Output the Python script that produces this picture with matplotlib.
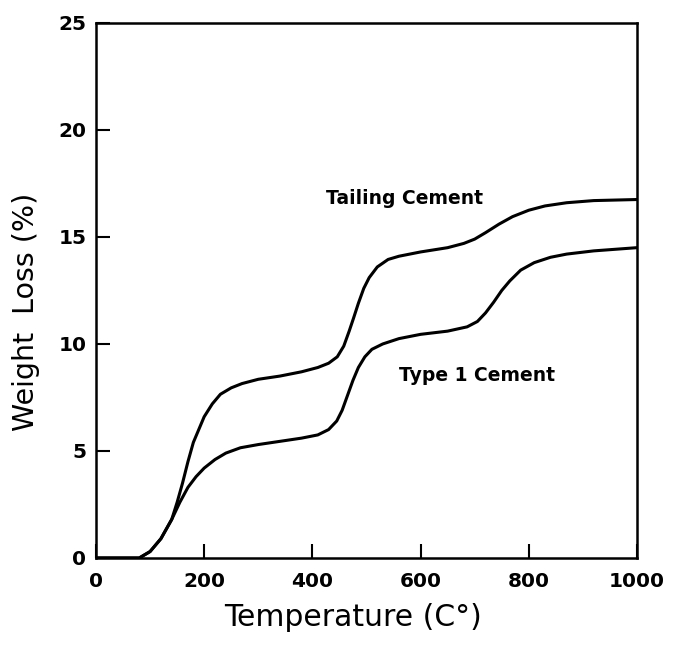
import matplotlib
matplotlib.use("Agg")
import matplotlib.pyplot as plt

# temperature (C) and weight loss (%)
temp_tailing = [0, 80, 100, 120, 140, 150, 160, 170, 180, 190, 200, 215, 230, 250, 270,
                300, 340, 380, 410, 430, 446, 458, 468, 476, 485, 495, 505, 520, 540, 560,
                600, 650, 680, 700, 720, 745, 770, 800, 830, 870, 920, 1000]
loss_tailing = [0, 0, 0.3, 0.9, 1.8, 2.6, 3.5, 4.5, 5.4, 6.0, 6.6, 7.2, 7.65, 7.95, 8.15,
                8.35, 8.5, 8.7, 8.9, 9.1, 9.4, 9.9, 10.6, 11.2, 11.9, 12.6, 13.1, 13.6, 13.95, 14.1,
                14.3, 14.5, 14.7, 14.9, 15.2, 15.6, 15.95, 16.25, 16.45, 16.6, 16.7, 16.75]

temp_type1 = [0, 80, 100, 120, 140, 155, 170, 185, 200, 220, 240, 267, 300, 340, 380,
              410, 430, 445, 455, 465, 475, 485, 497, 510, 530, 560, 600, 650, 686, 705,
              720, 735, 750, 765, 785, 810, 840, 870, 920, 1000]
loss_type1 = [0, 0, 0.3, 0.9, 1.8, 2.6, 3.3, 3.8, 4.2, 4.6, 4.9, 5.15, 5.3, 5.45, 5.6,
              5.75, 6.0, 6.4, 6.9, 7.6, 8.3, 8.9, 9.4, 9.75, 10.0, 10.25, 10.45, 10.6, 10.8, 11.05,
              11.45, 11.95, 12.5, 12.95, 13.45, 13.8, 14.05, 14.2, 14.35, 14.5]

x_ticks = [0, 200, 400, 600, 800, 1000]
y_ticks = [0, 5, 10, 15, 20, 25]

fig = plt.figure(figsize=(6.73, 6.47), dpi=100)
ax = fig.add_axes([0.1426, 0.1376, 0.8039, 0.8269])

for t, w in [(temp_tailing, loss_tailing), (temp_type1, loss_type1)]:
    ax.plot(t, w, color="black", lw=2.2, solid_capstyle="round", solid_joinstyle="round")

ax.text(426, 16.8, "Tailing Cement", fontsize=13.5, fontweight="bold", va="center", ha="left")
ax.text(561, 8.55, "Type 1 Cement", fontsize=13.5, fontweight="bold", va="center", ha="left")

ax.set_xlim(0, 1000)
ax.set_ylim(0, 25)
ax.set_xticks(x_ticks)
ax.set_yticks(y_ticks)
ax.tick_params(direction="in", length=10, width=1.5, labelsize=14.5, top=False, right=False)
ax.tick_params(axis="x", pad=10)
ax.tick_params(axis="y", pad=7)
for lab in ax.get_xticklabels() + ax.get_yticklabels():
    lab.set_fontweight("bold")
for sp in ax.spines.values():
    sp.set_linewidth(1.8)

ax.set_xlabel("Temperature (C°)", fontsize=21.5)
ax.xaxis.set_label_coords(0.476, -0.085)
ax.set_ylabel("Weight  Loss (%)", fontsize=20.5)
ax.yaxis.set_label_coords(-0.103, 0.46)

fig.savefig("out.png", dpi=100)
